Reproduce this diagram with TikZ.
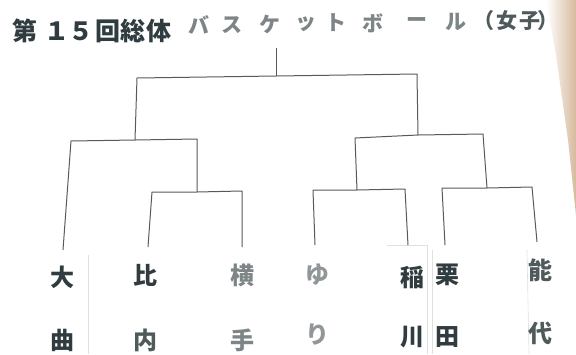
\documentclass[tikz,border=0pt]{standalone}
\usepackage{fontspec}
\newfontfamily\jp{Noto Sans CJK JP}
\usetikzlibrary{shadings}
\definecolor{inkdark}{HTML}{303C40}
\definecolor{inkmid}{HTML}{505A5C}
\definecolor{inklight}{HTML}{7E8587}
\definecolor{line}{HTML}{555B5C}
\definecolor{tan}{HTML}{C9A27C}
\tikzset{
  br/.style={draw=line, line width=1pt, line join=round},
  lab/.style={font=\jp\bfseries\fontsize{24}{24}\selectfont, inner sep=0pt, anchor=center},
  ttl/.style={font=\jp\bfseries\fontsize{25}{25}\selectfont, text=inkdark, inner sep=0pt},
  kt/.style={font=\jp\bfseries\fontsize{21}{21}\selectfont, text=inklight, inner sep=0pt},
  strip/.style={draw=black!12, line width=0.6pt}
}
\begin{document}
\begin{tikzpicture}[x=1pt,y=-1pt]
\useasboundingbox (0,0) rectangle (576,354);
\fill[white] (0,0) rectangle (576,354);
% photo edge shading at right
\shade[left color=white, right color=tan!75] (546,0) -- (576,0) -- (576,215) -- (568,140) -- (556,55) -- cycle;
% paper strip edges
\draw[strip] (88,255) -- (88,354);
\draw[strip] (387,245) -- (427,245) -- (427,354);
\draw[strip] (432,250) -- (432,354);
\draw[strip] (527,250) -- (529,354);
% title
\foreach \c/\x in {第/25,１/57,５/81,回/108,総/133,体/159}
  \node[ttl] at (\x,31) {\c};
\foreach \c/\x/\y in {バ/199/25,ス/232/25,ケ/270/24,ッ/306/24,ト/336/23,ボ/373/23,ー/417/22,ル/456/22}
  \node[kt] at (\x,\y) {\c};
\foreach \c/\x in {（/484,女/507,子/530,）/548}
  \node[kt, text=inkmid] at (\x,21) {\c};
% bracket coordinates
\coordinate (top) at (276,48);
\coordinate (m) at (276,76);
\coordinate (L) at (137,78);
\coordinate (R) at (417,74);
\coordinate (L1) at (135,140);
\coordinate (La) at (71,141);
\coordinate (Lb) at (197,139);
\coordinate (Lb2) at (197,192);
\coordinate (Lc) at (152,192);
\coordinate (Ld) at (242,191);
\coordinate (R1) at (418,135);
\coordinate (Ra) at (355,138);
\coordinate (Rb) at (483,134);
\coordinate (Ra2) at (357,190);
\coordinate (Rc) at (313,190);
\coordinate (Rd) at (405,189);
\coordinate (Rb2) at (487,188);
\coordinate (Re) at (442,188);
\coordinate (Rf) at (532,187);
% labels
\node[lab,text=inkdark] (a1) at (62,277) {大};
\node[lab,text=inkdark] (a2) at (62,340) {曲};
\node[lab,text=inkdark] (b1) at (145,275) {比};
\node[lab,text=inkmid] (b2) at (145,340) {内};
\node[lab,text=inklight] (c1) at (242,275) {横};
\node[lab,text=inklight] (c2) at (242,340) {手};
\node[lab,text=inklight!85] (d1) at (317,275) {ゆ};
\node[lab,text=inklight!85] (d2) at (317,335) {り};
\node[lab,text=inkdark] (e1) at (412,277) {稲};
\node[lab,text=inkdark] (e2) at (412,337) {川};
\node[lab,text=inkdark] (f1) at (447,275) {栗};
\node[lab,text=inkdark] (f2) at (447,337) {田};
\node[lab,text=inkmid] (g1) at (540,270) {能};
\node[lab,text=inkmid] (g2) at (540,333) {代};
% end points above labels
\coordinate (ea) at (63,250);
\coordinate (eb) at (148,247);
\coordinate (ec) at (242,247);
\coordinate (ed) at (315,245);
\coordinate (ee) at (408,245);
\coordinate (ef) at (445,245);
\coordinate (eg) at (537,242);
% bracket lines
\draw[br] (top) -- (m);
\draw[br] (L1) -- (L) -- (m) -- (R) -- (R1);
\draw[br] (ea) -- (La) -- (L1) -- (Lb) -- (Lb2);
\draw[br] (eb) -- (Lc) -- (Lb2) -- (Ld) -- (ec);
\draw[br] (Ra2) -- (Ra) -- (R1) -- (Rb) -- (Rb2);
\draw[br] (ed) -- (Rc) -- (Ra2) -- (Rd) -- (ee);
\draw[br] (ef) -- (Re) -- (Rb2) -- (Rf) -- (eg);
\end{tikzpicture}
\end{document}
